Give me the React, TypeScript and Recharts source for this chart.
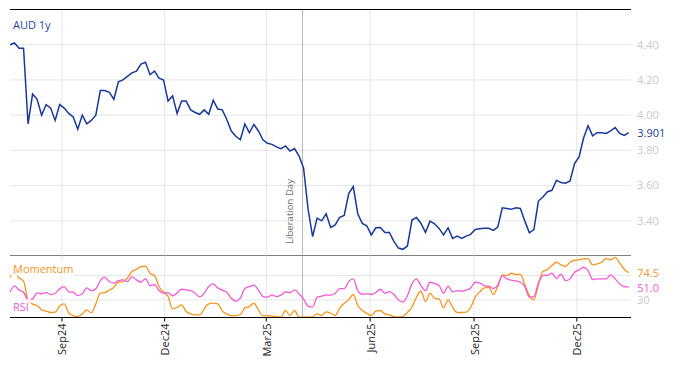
import { Line, LineChart, ReferenceLine, XAxis, YAxis } from "recharts";

const dates = [
  "2024-07-17", "2024-07-21", "2024-07-25", "2024-07-29",
  "2024-08-02", "2024-08-06", "2024-08-10", "2024-08-14", "2024-08-18", "2024-08-22", "2024-08-26", "2024-08-30",
  "2024-09-03", "2024-09-07", "2024-09-11", "2024-09-15", "2024-09-19", "2024-09-23", "2024-09-27",
  "2024-10-01", "2024-10-05", "2024-10-09", "2024-10-13", "2024-10-17", "2024-10-21", "2024-10-25", "2024-10-29",
  "2024-11-02", "2024-11-06", "2024-11-10", "2024-11-14", "2024-11-18", "2024-11-22", "2024-11-26", "2024-11-30",
  "2024-12-04", "2024-12-08", "2024-12-12", "2024-12-16", "2024-12-20", "2024-12-24", "2024-12-28",
  "2025-01-01", "2025-01-05", "2025-01-09", "2025-01-13", "2025-01-17", "2025-01-21", "2025-01-25", "2025-01-29",
  "2025-02-02", "2025-02-06", "2025-02-10", "2025-02-14", "2025-02-18", "2025-02-22", "2025-02-26",
  "2025-03-02", "2025-03-06", "2025-03-10", "2025-03-14", "2025-03-18", "2025-03-22", "2025-03-26", "2025-03-30",
  "2025-04-03", "2025-04-07", "2025-04-11", "2025-04-15", "2025-04-19", "2025-04-23", "2025-04-27",
  "2025-05-01", "2025-05-05", "2025-05-09", "2025-05-13", "2025-05-17", "2025-05-21", "2025-05-25", "2025-05-29",
  "2025-06-02", "2025-06-06", "2025-06-10", "2025-06-14", "2025-06-18", "2025-06-22", "2025-06-26", "2025-06-30",
  "2025-07-04", "2025-07-08", "2025-07-12", "2025-07-16", "2025-07-20", "2025-07-24", "2025-07-28",
  "2025-08-01", "2025-08-05", "2025-08-09", "2025-08-13", "2025-08-17", "2025-08-21", "2025-08-25", "2025-08-29",
  "2025-09-02", "2025-09-06", "2025-09-10", "2025-09-14", "2025-09-18", "2025-09-22", "2025-09-26", "2025-09-30",
  "2025-10-04", "2025-10-08", "2025-10-12", "2025-10-16", "2025-10-20", "2025-10-24", "2025-10-28",
  "2025-11-01", "2025-11-05", "2025-11-09", "2025-11-13", "2025-11-17", "2025-11-21", "2025-11-25", "2025-11-29",
  "2025-12-03", "2025-12-07", "2025-12-11", "2025-12-15", "2025-12-19", "2025-12-23", "2025-12-27", "2025-12-31",
  "2026-01-04", "2026-01-08", "2026-01-12", "2026-01-16",
];

const audRate = [
  4.40, 4.41, 4.38, 4.38, 3.95, 4.12, 4.09, 4.00, 4.06, 4.04,
  3.97, 4.06, 4.04, 4.01, 3.99, 3.92, 4.00, 3.95, 3.97, 4.00,
  4.14, 4.14, 4.13, 4.09, 4.19, 4.20, 4.22, 4.24, 4.25, 4.29,
  4.30, 4.23, 4.25, 4.21, 4.20, 4.08, 4.11, 4.01, 4.08, 4.08,
  4.03, 4.015, 4.005, 4.03, 4.005, 4.085, 4.035, 4.03, 3.975, 3.91,
  3.88, 3.86, 3.95, 3.90, 3.947, 3.91, 3.86, 3.84, 3.834, 3.82,
  3.81, 3.825, 3.796, 3.81, 3.768, 3.70, 3.466, 3.31, 3.415, 3.40,
  3.44, 3.362, 3.377, 3.42, 3.43, 3.555, 3.594, 3.44, 3.385, 3.372,
  3.32, 3.36, 3.362, 3.334, 3.334, 3.283, 3.245, 3.238, 3.257, 3.404,
  3.419, 3.385, 3.334, 3.398, 3.383, 3.357, 3.32, 3.36, 3.30, 3.313,
  3.30, 3.313, 3.323, 3.351, 3.355, 3.357, 3.357, 3.345, 3.364, 3.474,
  3.47, 3.465, 3.474, 3.47, 3.398, 3.332, 3.35, 3.512, 3.535, 3.565,
  3.573, 3.63, 3.617, 3.613, 3.626, 3.725, 3.763, 3.87, 3.94, 3.882,
  3.90, 3.90, 3.896, 3.911, 3.93, 3.896, 3.885, 3.901,
];

const momentum = [
  67, 75, 66, 61, 29, 23, 20.7, 13.6, 11.4, 9.2,
  9.7, 19.6, 23.4, 8.6, 4.2, 2.6, 7, 13.6, 8.6, 23.4,
  41, 42, 46, 50.8, 59, 60, 66, 76.6, 80.4, 84.8,
  85.3, 73.8, 70, 51.9, 42.6, 35.5, 15.2, 17.9, 21.8, 10.8,
  7, 5.3, 5.3, 15.2, 23.4, 24.5, 23.4, 11.4, 7, 4.2,
  4.2, 5.9, 16.8, 19, 24.5, 13.6, 4.2, 4.2, 3.1, 2.6,
  2, 12.5, 4.2, 12.5, 1.5, 1.5, 1.5, 2, 7, 4.2,
  10.3, 8, 4.2, 16.3, 24.5, 30, 38.8, 20.7, 12.5, 8,
  4.2, 11.4, 12.5, 7, 5.3, 2.6, 2, 2.6, 9.7, 17.9,
  34.4, 44.2, 27.3, 41, 32.7, 31.6, 16.8, 30, 17.9, 9.2,
  9.2, 9.7, 17.4, 34.4, 43.1, 49.7, 50.8, 38.8, 51.9, 70.5,
  70, 73.8, 71.6, 72.2, 54.7, 37.1, 30, 55.2, 76.6, 79.9,
  86.4, 91.9, 87.5, 85.3, 91.9, 95.2, 95.8, 97.4, 98, 87.5,
  89.2, 91.9, 98, 95.8, 100, 90.3, 80.4, 74.5,
];

const rsi = [
  42.6, 53, 46.4, 42.6, 30, 31.6, 41.5, 39.9, 42, 38.8,
  41, 48.1, 51.9, 43.1, 42.6, 37.1, 39.9, 49.7, 45.3, 48.1,
  61.8, 67.3, 60.1, 57.4, 61.8, 62.9, 60.1, 68.4, 62.9, 59,
  65.1, 53.6, 55.2, 45.3, 41, 42, 36.6, 41.5, 47.5, 46.4,
  45.3, 41, 34.9, 41, 51.9, 56.3, 49.7, 45.9, 42.6, 32.7,
  27.8, 32.7, 48.6, 51.9, 54.1, 46.4, 35.5, 34.4, 38.2, 35.5,
  37.7, 43.1, 42, 46.4, 39.9, 31.6, 19.6, 18, 34.4, 36,
  38.2, 37.7, 41, 48.6, 48.6, 60.1, 64.5, 45.3, 39.3, 39.9,
  38.8, 42, 47.5, 41, 43.7, 39.3, 30, 26.2, 37.1, 56.3,
  64.5, 53.6, 45.3, 59, 56.8, 53.6, 41, 52.5, 43.1, 45.3,
  44.2, 45.9, 49.7, 59, 57.9, 53.6, 52.5, 48.6, 54.1, 70,
  64.5, 62.3, 61.2, 59, 51.9, 34.4, 35.5, 57.9, 70, 70.5,
  73.8, 65.1, 72.2, 61.8, 64.5, 75.5, 79.3, 83.7, 78.2, 63.4,
  64.5, 64.5, 64.5, 71.1, 64.5, 56.3, 51.9, 51.0,
];

const quarterTicks = ["2024-09-01", "2024-12-01", "2025-03-01", "2025-06-01", "2025-09-01", "2025-12-01"];
const rateTicks = [3.4, 3.6, 3.8, 4.0, 4.2, 4.4];
const rateDomain = [3.2, 4.6];
const oscTicks = [30, 70];
const oscDomain = [1, 103];
const liberationDay = "2025-04-02";
const rangeStart = "2024-07-17";
const rangeEnd = "2026-01-18";

const MONTHS = ["Jan", "Feb", "Mar", "Apr", "May", "Jun", "Jul", "Aug", "Sep", "Oct", "Nov", "Dec"];

const BLUE = "#17399c";
const ORANGE = "#f7941d";
const PINK = "#f558d8";
const GRID = "#e6e6e6";
const AXIS_TEXT = "#c8c8c8";

const data = dates.map((d, i) => ({
  t: Date.parse(d),
  rate: audRate[i],
  momentum: momentum[i],
  rsi: rsi[i],
}));

const xDomain = [Date.parse(rangeStart), Date.parse(rangeEnd)];
const xTicks = quarterTicks.map((d) => Date.parse(d));
const lastIndex = data.length - 1;

function quarterLabel(ts: number) {
  const d = new Date(ts);
  return `${MONTHS[d.getUTCMonth()]}${String(d.getUTCFullYear()).slice(2)}`;
}

function QuarterTick({ x, y, payload }: any) {
  return (
    <text
      x={x}
      y={y}
      transform={`rotate(-90, ${x}, ${y})`}
      textAnchor="end"
      dominantBaseline="central"
      fontSize={11}
      fill="#222"
    >
      {quarterLabel(payload.value)}
    </text>
  );
}

function lastValueLabel(color: string, digits: number) {
  return (props: any) => {
    if (props.index !== lastIndex) return null;
    const x = props.viewBox?.x ?? props.x;
    const y = props.viewBox?.y ?? props.y;
    return (
      <text x={x + 8.5} y={y} dominantBaseline="central" fontSize={11} fill={color}>
        {Number(props.value).toFixed(digits)}
      </text>
    );
  };
}

function LiberationLabel({ viewBox }: any) {
  const x = viewBox.x - 12.5;
  const y = viewBox.y + viewBox.height - 12;
  return (
    <text
      x={x}
      y={y}
      transform={`rotate(-90, ${x}, ${y})`}
      textAnchor="start"
      dominantBaseline="central"
      fontSize={9.6}
      fill="#6e6e6e"
    >
      Liberation Day
    </text>
  );
}

const overlayLabel = {
  position: "absolute" as const,
  left: 11,
  padding: "0 2px",
  fontSize: 11,
  lineHeight: "15px",
  background: "rgba(255,255,255,0.78)",
};

export default function App() {
  return (
    <div
      style={{
        position: "absolute",
        left: 0,
        top: 0,
        width: 674,
        height: 366,
        overflow: "hidden",
        background: "#fff",
        fontFamily: "'Open Sans', sans-serif",
      }}
    >
      <div style={{ position: "absolute", left: 0, top: 0 }}>
        <LineChart width={674} height={256} data={data} margin={{ top: 9.5, right: 0, bottom: 0, left: 10 }}>
          {rateTicks.map((v) => (
            <ReferenceLine key={`h${v}`} y={v} stroke={GRID} />
          ))}
          {xTicks.map((t) => (
            <ReferenceLine key={`v${t}`} x={t} stroke={GRID} />
          ))}
          <XAxis
            dataKey="t"
            type="number"
            domain={xDomain}
            ticks={xTicks}
            height={0.5}
            mirror
            stroke="#000"
            tick={false}
            tickSize={5}
          />
          <YAxis
            orientation="right"
            domain={rateDomain}
            ticks={rateTicks}
            width={43}
            stroke="none"
            axisLine={false}
            tickLine={false}
            tickSize={4}
            tickMargin={2}
            tick={{ fill: AXIS_TEXT, fontSize: 11 }}
            tickFormatter={(v: number) => v.toFixed(2)}
          />
          <ReferenceLine x={Date.parse(liberationDay)} stroke="#b4b4b4" label={LiberationLabel} />
          <Line
            type="linear"
            dataKey="rate"
            stroke={BLUE}
            strokeWidth={1.5}
            dot={false}
            isAnimationActive={false}
            label={lastValueLabel(BLUE, 3)}
          />
        </LineChart>
      </div>
      <div style={{ position: "absolute", left: 0, top: 254 }}>
        <LineChart width={674} height={112} data={data} margin={{ top: 1.5, right: 0, bottom: 0, left: 10 }}>
          {oscTicks.map((v) => (
            <ReferenceLine key={`h${v}`} y={v} stroke={GRID} />
          ))}
          {xTicks.map((t) => (
            <ReferenceLine key={`v${t}`} x={t} stroke={GRID} />
          ))}
          <XAxis
            dataKey="t"
            type="number"
            domain={xDomain}
            ticks={xTicks}
            interval={0}
            height={48.5}
            stroke="#000"
            tickSize={4}
            tickMargin={2}
            tick={<QuarterTick />}
          />
          <YAxis
            orientation="right"
            domain={oscDomain}
            ticks={oscTicks}
            width={43}
            stroke="none"
            axisLine={false}
            tickLine={false}
            tickSize={4}
            tickMargin={2}
            tick={{ fill: AXIS_TEXT, fontSize: 11 }}
            tickFormatter={(v: number) => (v === 30 ? "30" : "")}
          />
          <ReferenceLine x={Date.parse(liberationDay)} stroke="#b4b4b4" />
          <Line
            type="monotone"
            dataKey="momentum"
            stroke={ORANGE}
            strokeWidth={1.3}
            dot={false}
            isAnimationActive={false}
            label={lastValueLabel(ORANGE, 1)}
          />
          <Line
            type="monotone"
            dataKey="rsi"
            stroke={PINK}
            strokeWidth={1.3}
            dot={false}
            isAnimationActive={false}
            label={lastValueLabel(PINK, 1)}
          />
        </LineChart>
      </div>
      {/* top frame of the upper panel */}
      <div style={{ position: "absolute", left: 10, top: 9, width: 621, height: 1, background: "#000" }} />
      <div style={{ position: "absolute", left: 13, top: 18, fontSize: 11, lineHeight: "14px", color: "#1d45a6" }}>
        AUD 1y
      </div>
      <div style={{ ...overlayLabel, top: 261, color: ORANGE }}>Momentum</div>
      <div style={{ ...overlayLabel, top: 298.5, color: PINK }}>RSI</div>
    </div>
  );
}
